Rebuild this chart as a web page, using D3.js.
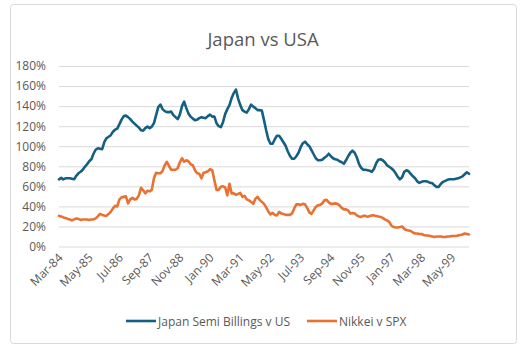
<!DOCTYPE html>
<html lang="en">
<head>
    <meta charset="UTF-8">
    <title>Japan vs USA</title>
    <script src="https://cdn.jsdelivr.net/npm/d3@7"></script>
    <style>
        body {
            margin: 0;
            background: #ffffff;
            font-family: 'Open Sans', sans-serif;
        }
        svg text {
            fill: #595959;
        }
    </style>
</head>
<body>
    <div id="chart"></div>

    <script>
        // series (values in %), monthly Mar-84 .. Jan-00
        const seriesNames = ["Japan Semi Billings v US", "Nikkei v SPX"];
        const seriesColors = ["#156082", "#E97132"];
        const tickLabels = ["Mar-84", "May-85", "Jul-86", "Sep-87", "Nov-88", "Jan-90", "Mar-91",
            "May-92", "Jul-93", "Sep-94", "Nov-95", "Jan-97", "Mar-98", "May-99"];
        const yTicks = [0, 20, 40, 60, 80, 100, 120, 140, 160, 180];

        const japanSemi = [
            67, 68.5, 67, 68, 68, 68, 67.5, 67, 70.5, 73,
            74.5, 76.5, 79.5, 82, 85, 87, 92.5, 96.5, 98, 97.5,
            97, 104, 108, 109.5, 111, 114.5, 116.5, 117.5, 122, 126.5,
            130, 130.5, 129, 127, 124.5, 122.5, 120.5, 118.5, 116, 115.5,
            118, 119.5, 118, 119.5, 123, 131, 139, 141.5, 137, 135,
            134, 134, 134.5, 131, 129, 127, 131.5, 140, 144.5, 138,
            132.5, 129.5, 127.5, 126, 126.5, 128, 129, 128.5, 128, 130,
            131.5, 129.5, 129.5, 123, 120, 119, 124, 132, 137, 141,
            148, 153, 156.5, 147.5, 141, 136, 134.5, 133.5, 137, 141.5,
            139.5, 138, 136, 136, 135.5, 126, 116, 107, 102.5, 102.5,
            107, 110.5, 110.5, 107.5, 104, 100.5, 95, 90.5, 87.5, 87.5,
            90, 93.5, 99, 103, 104.5, 102, 100, 96, 92, 88,
            86, 86, 86.5, 88.5, 90, 92.5, 90, 88, 87, 86.5,
            85, 84, 82.5, 86, 90, 93.5, 95.5, 93.5, 89, 82.5,
            78.5, 76.5, 76.5, 76, 75.5, 74.5, 77.5, 83, 86.5, 87,
            86, 84, 81, 79.5, 78, 76, 73, 69.5, 67, 69,
            74.5, 76, 75, 72.5, 70, 68, 65, 63.5, 64.5, 65,
            65, 64.5, 63.5, 63, 61, 59.5, 59.5, 62.5, 64.5, 65.5,
            66.5, 67, 67, 67, 67.5, 68, 69, 70, 72, 74,
            72.5
        ];

        const nikkeiSpx = [
            30.5, 30, 29, 28.5, 27.5, 27, 26, 27, 28, 27.5,
            26.5, 27, 27, 27, 26.5, 27, 27, 28, 30, 32.5,
            31.5, 31, 30.5, 32.5, 34.5, 38, 40.5, 40, 47, 49,
            49.5, 50, 43, 47, 48.5, 47, 47.5, 51, 58.5, 56,
            53, 55.5, 55, 56.5, 68, 73.5, 73, 73, 75.5, 81,
            84.5, 80, 76.5, 76.5, 76.5, 78, 84, 88, 84.5, 86,
            85, 82, 81, 76, 73, 72.5, 68, 73.5, 74, 75,
            77, 76, 66, 56.5, 56.5, 59.5, 60, 59, 51, 62.5,
            53, 53, 51.5, 52.5, 53.5, 49.5, 50.5, 47, 46, 44.5,
            42.5, 47.5, 49.5, 46.5, 44.5, 42.5, 39, 35, 32, 33.5,
            31.5, 31, 34.5, 33, 32.5, 31.5, 31.5, 31.5, 33, 38,
            42, 42, 41.5, 42.5, 42, 38.5, 34, 32.5, 36, 39.5,
            41, 41.5, 43, 46, 46.5, 44, 42.5, 42.5, 43, 42.5,
            41, 38.5, 37, 37, 36, 33, 33.5, 33, 31, 30,
            29.5, 30.5, 30.5, 29.5, 30.5, 31, 31, 30.5, 30, 29.5,
            28.5, 27, 26, 24.5, 21, 19.5, 19, 19, 19.5, 20,
            17.5, 16.5, 16, 15.5, 14, 13, 13, 12.5, 12.5, 11.5,
            11, 11, 10.5, 10, 9.5, 10, 10, 10, 9.5, 9.5,
            10, 10, 10.5, 10.5, 10.5, 11, 11.5, 12, 13, 12.5,
            12
        ];

        const width = 528;
        const height = 353;
        const margin = {top: 66, right: 59, bottom: 106.5, left: 59};

        const fmt = d3.timeFormat("%b-%y");
        const months = d3.timeMonth.range(new Date(1984, 2, 1), new Date(2000, 1, 1)).map(fmt);

        const svg = d3.select("#chart")
            .append("svg")
            .attr("width", width)
            .attr("height", height);

        // chart area border
        svg.append("rect")
            .attr("x", 10.5)
            .attr("y", 4.5)
            .attr("width", 506)
            .attr("height", 339)
            .attr("rx", 3)
            .attr("fill", "#ffffff")
            .attr("stroke", "#d9d9d9");

        const x = d3.scalePoint()
            .domain(months)
            .range([margin.left, width - margin.right]);

        const y = d3.scaleLinear()
            .domain([0, 180])
            .range([height - margin.bottom, margin.top]);

        // title
        svg.append("text")
            .attr("x", 263)
            .attr("y", 46)
            .attr("text-anchor", "middle")
            .attr("font-size", "18.5px")
            .text("Japan vs USA");

        // gridlines + y labels
        const yAxis = svg.append("g")
            .attr("transform", `translate(${margin.left},0)`)
            .call(d3.axisLeft(y)
                .tickValues(yTicks)
                .tickSize(-(width - margin.left - margin.right))
                .tickPadding(13)
                .tickFormat(d => d + "%"));
        yAxis.select(".domain").remove();
        yAxis.selectAll(".tick line").attr("stroke", "#d9d9d9");
        yAxis.selectAll(".tick text")
            .attr("font-size", "12px")
            .attr("font-family", "'Open Sans', sans-serif");

        // x labels
        const xAxis = svg.append("g")
            .attr("transform", `translate(0,${height - margin.bottom})`)
            .call(d3.axisBottom(x).tickValues(tickLabels).tickSize(0).tickPadding(0));
        xAxis.select(".domain").remove();
        xAxis.selectAll(".tick text")
            .attr("font-size", "12px")
            .attr("font-family", "'Open Sans', sans-serif")
            .attr("text-anchor", "end")
            .attr("y", 0)
            .attr("dy", 0)
            .attr("transform", "translate(4,12) rotate(-45)");

        const line = d3.line()
            .x((d, i) => x(months[i]))
            .y(d => y(d));

        [japanSemi, nikkeiSpx].forEach((values, k) => {
            svg.append("path")
                .datum(values)
                .attr("fill", "none")
                .attr("stroke", seriesColors[k])
                .attr("stroke-width", 2.6)
                .attr("stroke-linejoin", "round")
                .attr("stroke-linecap", "round")
                .attr("d", line);
        });

        // legend
        const legendX = [126, 307];
        const legend = svg.append("g");
        seriesNames.forEach((name, k) => {
            legend.append("line")
                .attr("x1", legendX[k])
                .attr("x2", legendX[k] + 30)
                .attr("y1", 321)
                .attr("y2", 321)
                .attr("stroke", seriesColors[k])
                .attr("stroke-width", 2.6);
            legend.append("text")
                .attr("x", legendX[k] + 32)
                .attr("y", 325.5)
                .attr("font-size", "12px")
                .text(name);
        });
    </script>
</body>
</html>
